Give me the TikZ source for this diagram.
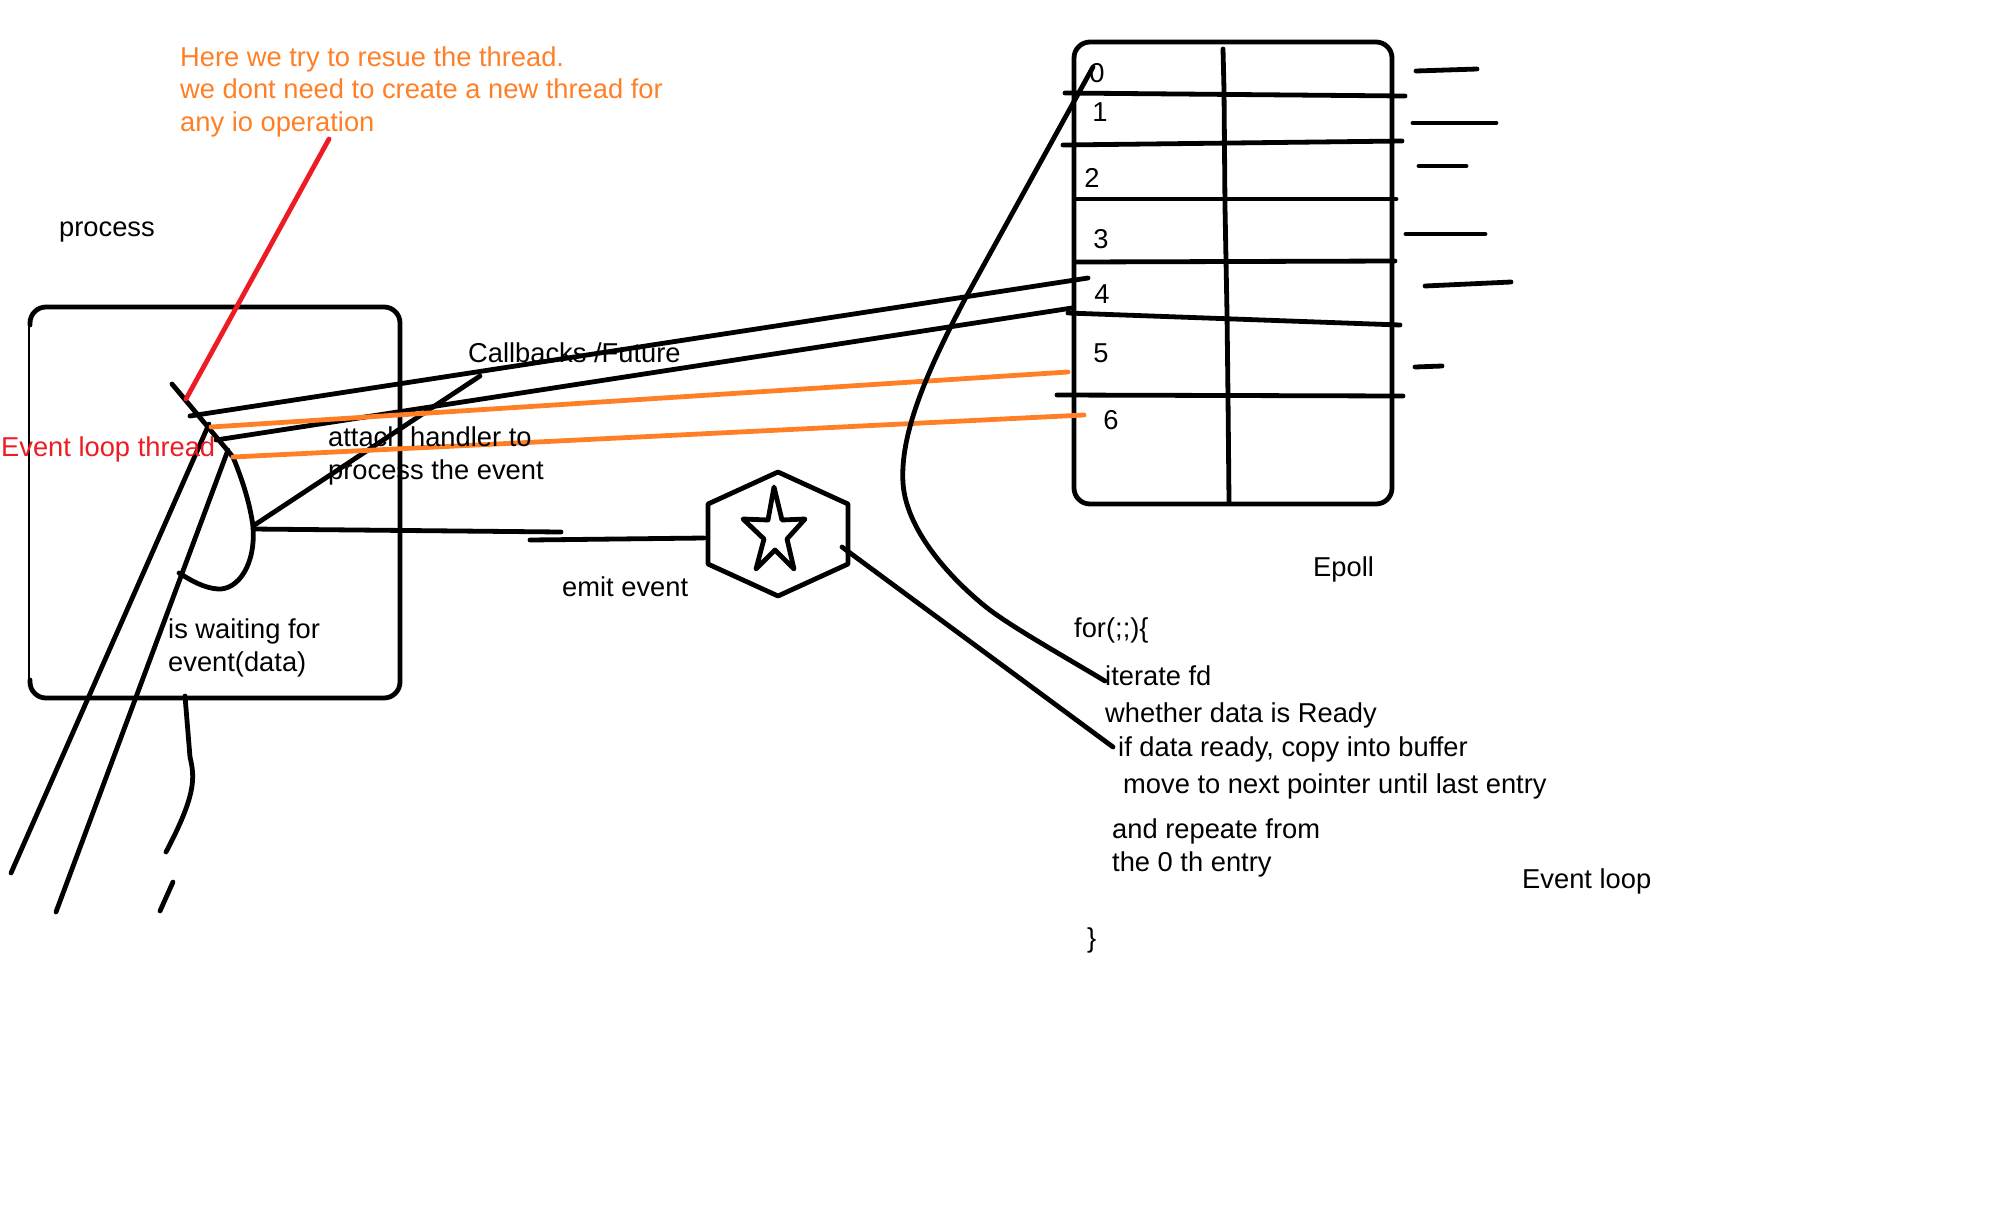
\documentclass[tikz,border=0pt]{standalone}
\usepackage{fontspec}
\setmainfont{Liberation Sans}
\tikzset{
	ink/.style={draw=black, line width=4.8pt, line cap=round, line join=round},
	redink/.style={ink, draw=paintred},
	orangeink/.style={ink, draw=paintorange},
	label/.style={inner sep=0pt, anchor=base west, align=left, font=\fontsize{27.3}{32.4}\selectfont},
	digit/.style={inner sep=0pt, font=\fontsize{27.3}{32.4}\selectfont},
}
\definecolor{paintred}{HTML}{ED1C24}
\definecolor{paintorange}{HTML}{FF7F27}
\begin{document}
\begin{tikzpicture}[x=1pt, y=-1pt]
	\useasboundingbox (0,0) rectangle (1992,1227);
	% process box
	\draw[ink, rounded corners=16pt] (30,325) -- (30,307) -- (400,307) -- (400,698) -- (30,698) -- (30,680);
	\draw[black, line width=1.5pt] (29,325) -- (29,680);
	% epoll table
	\node[ink, rounded corners=16pt, minimum width=318pt, minimum height=462pt, inner sep=0pt] (epoll) at (1233,273) {};
	\draw[ink] (1223,49) -- (1224,90) -- (1225,207) -- (1227,313) -- (1228,397) -- (1229,502);
	\coordinate (entryA) at (1088,278);
	\coordinate (entryB) at (1072,308);
	\coordinate (entryC) at (1068,372);
	\coordinate (entryD) at (1084,415);
	\path[ink]
	(1065,93) edge (1405,96)
	(1063,145) edge (1402,141)
	(1077,199) edge (1396,199)
	(1076,262) edge (1395,261)
	(1068,313) edge (1400,325)
	(1057,395) edge (1403,396);
	\path[ink]
	(1416,71) edge (1477,69)
	(1413,123) edge (1496,123)
	(1419,166) edge (1466,166)
	(1406,234) edge (1485,234)
	(1425,286) edge (1511,282)
	(1415,367) edge (1442,366);
	\foreach \name/\px/\py/\txt in {d0/1097/73/0, d1/1100/112/1, d2/1092/178/2, d3/1101/239/3, d4/1102/294/4, d5/1101/353/5, d6/1111/420/6}
		\node[digit] (\name) at (\px,\py) {\txt};
	% event loop thread
	\coordinate (threadTop) at (172,384);
	\coordinate (threadA) at (190,416);
	\coordinate (threadB) at (216,440);
	\coordinate (threadC) at (211,427);
	\coordinate (threadD) at (233,457);
	\coordinate (threadE) at (209,424);
	\coordinate (threadF) at (228,450);
	\coordinate (threadG) at (253,526);
	\draw[ink] (threadTop) -- (threadD) .. controls (244,484) and (250,505) .. (threadG) .. controls (256,565) and (238,590) .. (218,589) .. controls (204,588) and (192,581) .. (179,573);
	\draw[redink] (329,139) -- (186,399);
	\path[ink]
	(threadA) edge (entryA)
	(threadB) edge (entryB)
	(threadE) edge (11,873)
	(threadF) edge (56,912)
	(threadG) edge (480,376);
	\path[orangeink]
	(threadC) edge (entryC)
	(threadD) edge (entryD);
	\draw[ink] (185,696) -- (190,757) .. controls (195,778) and (196,795) .. (166,852);
	\draw[ink] (173,882) -- (160,911);
	% event source
	\draw[ink] (778,472) -- (848,504) -- (848,564) -- (778,596) -- (708,564) -- (708,504) -- cycle;
	\draw[ink] (774,487) -- (782,520) -- (805,519) -- (787,539) -- (794,569) -- (775,550) -- (756,569) -- (764,539) -- (743,519) -- (768,520) -- cycle;
	\coordinate (hexA) at (704,538);
	\coordinate (hexB) at (842,547);
	\path[ink]
	(253,529) edge (561,532)
	(530,540) edge (hexA)
	(hexB) edge (1113,747);
	% epoll pointer
	\draw[ink] (1093,67) -- (965,299) .. controls (925,375) and (900,435) .. (903,483) .. controls (906,530) and (950,578) .. (986,607) .. controls (1010,626) and (1060,654) .. (1105,681);
	% texts
	\node[label, paintorange] (note) at (180,131) {Here we try to resue the thread.\\we dont need to create a new thread for\\any io operation};
	\node[label] (process) at (59,236) {process};
	\node[label] (callbacks) at (468,362) {Callbacks /Future};
	\node[label, paintred] (thread) at (1,456) {Event loop thread};
	\node[label] (attach) at (328,479) {attach handler to\\process the event};
	\node[label] (emit) at (562,596) {emit event};
	\node[label] (waiting) at (168,671) {is waiting for\\event(data)};
	\node[label] (epolltxt) at (1313,576) {Epoll};
	\node[label] (forloop) at (1074,637) {for(;;)\{};
	\node[label] (iterate) at (1105,685) {iterate fd};
	\node[label] (whether) at (1105,722) {whether data is Ready};
	\node[label] (ifready) at (1118,756) {if data ready, copy into buffer};
	\node[label] (move) at (1123,793) {move to next pointer until last entry};
	\node[label] (repeat) at (1112,871) {and repeate from\\the 0 th entry};
	\node[label] (loop) at (1522,888) {Event loop};
	\node[label] (closing) at (1087,947) {\}};
\end{tikzpicture}
\end{document}
